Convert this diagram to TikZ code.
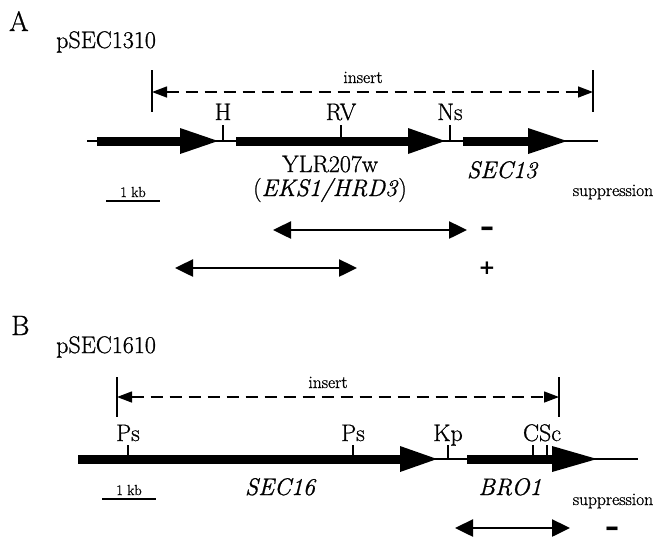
\documentclass[tikz,border=0pt]{standalone}
\usepackage{fontspec}
\setmainfont{Latin Modern Roman}[FakeBold=0.9]
\newfontfamily\signfont{DejaVu Sans}
\usetikzlibrary{arrows.meta}
\newcommand\genearr[4]{%
  \fill ({#1},{#4-4.5}) rectangle ({#2},{#4+4.5});
  \fill ({#2},{#4-13}) -- ({#3},{#4}) -- ({#2},{#4+13}) -- cycle;}
\begin{document}
\begin{tikzpicture}[x=1pt,y=-1pt,
  lbl/.style={font=\fontsize{24}{28}\selectfont, anchor=base, inner sep=0pt},
  glbl/.style={font=\fontsize{24}{28}\selectfont\itshape, anchor=base, inner sep=0pt},
  small/.style={font=\fontsize{17.5}{20}\selectfont, anchor=base, inner sep=0pt},
  kb/.style={font=\fontsize{14.5}{16}\selectfont, anchor=base, inner sep=0pt},
  panel/.style={font=\fontsize{28}{32}\selectfont, anchor=base west, inner sep=0pt},
  insertbar/.style={line width=1.5pt},
  insertarrow/.style={line width=1.4pt, dash pattern=on 12pt off 7pt,
    {Triangle[length=15pt,width=11pt]}-{Triangle[length=15pt,width=11pt]}},
  dbl/.style={line width=2.5pt,
    {Triangle[length=18pt,width=17pt]}-{Triangle[length=18pt,width=17pt]}},
  dna/.style={line width=1.2pt},
  site/.style={line width=1.2pt},
  minus/.style={font=\fontsize{28}{30}\selectfont\signfont\bfseries, anchor=center, inner sep=0pt},
  plus/.style={font=\fontsize{20}{22}\selectfont\signfont\bfseries, anchor=center, inner sep=0pt},
]
\useasboundingbox[fill=white] (0,0) rectangle (655,542);

% ---------------- Panel A ----------------
\node[panel] (A) at (9,31) {A};
\node[lbl, anchor=base west] (pA) at (56,48) {pSEC1310};
\draw[insertbar] (152,70) -- (152,112);
\draw[insertbar] (593,70) -- (593,112);
\coordinate (iAl) at (152,92);
\coordinate (iAr) at (593,92);
\draw[insertarrow] (iAl) -- (iAr);
\node[small] (insA) at (363,83) {insert};
\draw[dna] (87,141) -- (598,141);
\genearr{97}{180}{218}{141}
\genearr{236}{408}{445}{141}
\genearr{463}{528}{567}{141}
\draw[site] (223,125) -- (223,141);
\draw[site] (341,125) -- (341,141);
\draw[site] (450,125) -- (450,141);
\node[lbl] (H) at (223,120) {H};
\node[lbl] (RV) at (341,120) {RV};
\node[lbl] (Ns) at (450,120) {Ns};
\node[lbl] (ylr) at (330,172) {YLR207w};
\node[lbl] (eks) at (330,196) {(\textit{EKS1/HRD3})};
\node[glbl] (sec13) at (502,178) {SEC13};
\draw[line width=1.2pt] (106,201) -- (160,201);
\node[kb] (kbA) at (133,197) {1 kb};
\node[small] (supA) at (613,196) {suppression};
\coordinate (a1l) at (273,230);
\coordinate (a1r) at (467,230);
\draw[dbl] (a1l) -- (a1r);
\coordinate (a2l) at (175,268);
\coordinate (a2r) at (357,268);
\draw[dbl] (a2l) -- (a2r);
\node[minus] (mA) at (487,232) {–};
\node[plus] (pl) at (487,268) {+};

% ---------------- Panel B ----------------
\node[panel] (B) at (11,335) {B};
\node[lbl, anchor=base west] (pB) at (56,353) {pSEC1610};
\draw[insertbar] (117,377) -- (117,417);
\draw[insertbar] (559,377) -- (559,417);
\coordinate (iBl) at (117,397);
\coordinate (iBr) at (559,397);
\draw[insertarrow] (iBl) -- (iBr);
\node[small] (insB) at (328,388) {insert};
\draw[dna] (78,459) -- (638,459);
\genearr{78}{400}{437}{459}
\genearr{467}{552}{597}{459}
\draw[site] (128,445) -- (128,459);
\draw[site] (353,445) -- (353,459);
\draw[site] (448,445) -- (448,459);
\draw[site] (533,445) -- (533,459);
\draw[site] (547,445) -- (547,459);
\node[lbl] (Ps1) at (128,441) {Ps};
\node[lbl] (Ps2) at (353,441) {Ps};
\node[lbl] (Kp) at (448,441) {Kp};
\node[lbl] (CSc) at (542,441) {CSc};
\node[glbl] (sec16) at (280,495) {SEC16};
\node[glbl] (bro1) at (510,495) {BRO1};
\draw[line width=1.2pt] (102,499) -- (156,499);
\node[kb] (kbB) at (129,495) {1 kb};
\node[small] (supB) at (613,505) {suppression};
\coordinate (b1l) at (455,528);
\coordinate (b1r) at (570,528);
\draw[dbl] (b1l) -- (b1r);
\node[minus] (mB) at (612,532) {–};
\end{tikzpicture}
\end{document}
